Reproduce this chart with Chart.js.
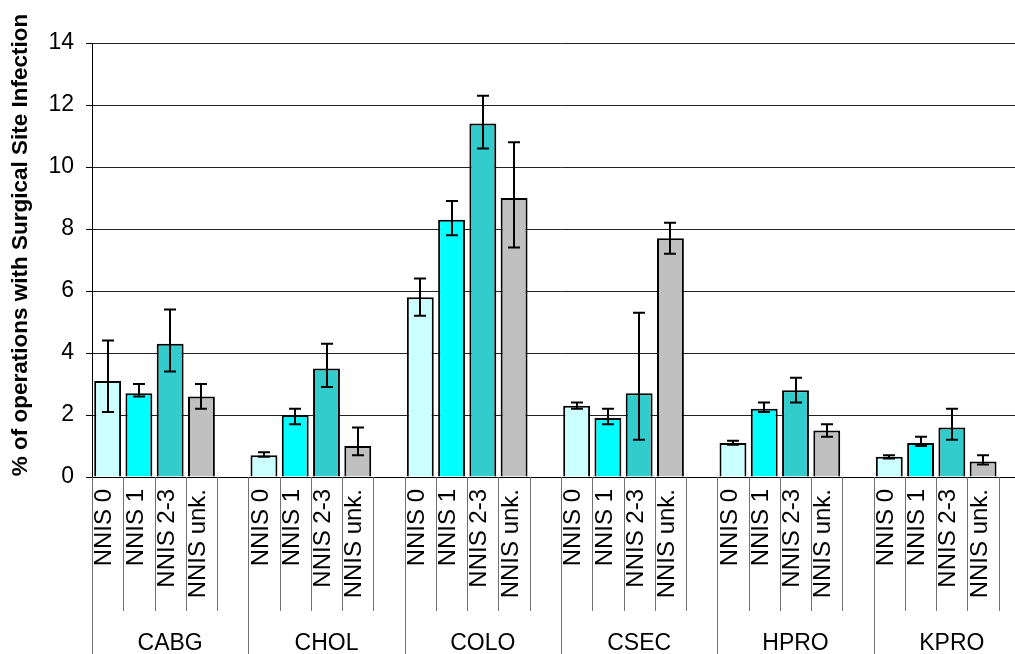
<!DOCTYPE html>
<html>
<head>
<meta charset="utf-8">
<script src="https://cdn.jsdelivr.net/npm/chart.js@4/dist/chart.umd.min.js"></script>
<style>
  html, body { margin: 0; padding: 0; overflow: hidden; background: #fff; width: 1015px; height: 654px; }
  #wrap { position: absolute; left: 0; top: 0; width: 1031px; height: 654px; }
</style>
</head>
<body>
<div id="wrap"><canvas id="ssi" width="1031" height="654"></canvas></div>
<script>
// Surgical site infection rates by procedure and NNIS risk index
const procedures = ['CABG', 'CHOL', 'COLO', 'CSEC', 'HPRO', 'KPRO'];
const riskLevels = ['NNIS 0', 'NNIS 1', 'NNIS 2-3', 'NNIS unk.'];
const riskColors = ['#CCFFFF', '#00FFFF', '#33CCCC', '#C0C0C0'];

// rate (%) per procedure, one array per risk level
const rateNnis0   = [3.1, 0.7, 5.8, 2.3, 1.1, 0.65];
const rateNnis1   = [2.7, 2.0, 8.3, 1.9, 2.2, 1.1];
const rateNnis23  = [4.3, 3.5, 11.4, 2.7, 2.8, 1.6];
const rateNnisUnk = [2.6, 1.0, 9.0, 7.7, 1.5, 0.5];

// 95% confidence interval bounds
const lowNnis0    = [2.1, 0.65, 5.2, 2.2, 1.04, 0.6];
const highNnis0   = [4.4, 0.8, 6.4, 2.4, 1.17, 0.7];
const lowNnis1    = [2.6, 1.7, 7.8, 1.7, 2.1, 1.0];
const highNnis1   = [3.0, 2.2, 8.9, 2.2, 2.4, 1.3];
const lowNnis23   = [3.4, 2.9, 10.6, 1.2, 2.4, 1.2];
const highNnis23  = [5.4, 4.3, 12.3, 5.3, 3.2, 2.2];
const lowNnisUnk  = [2.2, 0.7, 7.4, 7.2, 1.3, 0.4];
const highNnisUnk = [3.0, 1.6, 10.8, 8.2, 1.7, 0.7];

const yTicks = [0, 2, 4, 6, 8, 10, 12, 14];
const yTitle = '% of operations with Surgical Site Infection';

const FONT = '"Liberation Sans", Arial, sans-serif';

// Each procedure takes five slots: four risk levels plus an empty spacer
const rates = [rateNnis0, rateNnis1, rateNnis23, rateNnisUnk];
const lows = [lowNnis0, lowNnis1, lowNnis23, lowNnisUnk];
const highs = [highNnis0, highNnis1, highNnis23, highNnisUnk];
const slotLabels = [], slotValues = [], slotColors = [], slotLow = [], slotHigh = [];
procedures.forEach((p, pi) => {
  riskLevels.forEach((r, ri) => {
    slotLabels.push(r);
    slotValues.push(rates[ri][pi]);
    slotColors.push(riskColors[ri]);
    slotLow.push(lows[ri][pi]);
    slotHigh.push(highs[ri][pi]);
  });
  slotLabels.push('');
  slotValues.push(null);
  slotColors.push('rgba(0,0,0,0)');
  slotLow.push(null);
  slotHigh.push(null);
});
const SLOTS_PER_GROUP = riskLevels.length + 1;

const errorBars = {
  id: 'errorBars',
  afterDatasetsDraw(chart) {
    const ctx = chart.ctx;
    const meta = chart.getDatasetMeta(0);
    const y = chart.scales.y;
    ctx.save();
    ctx.strokeStyle = '#000';
    ctx.lineWidth = 2;
    meta.data.forEach((bar, i) => {
      if (slotLow[i] == null) return;
      const x = Math.round(bar.x);
      const yl = y.getPixelForValue(slotLow[i]);
      const yh = y.getPixelForValue(slotHigh[i]);
      ctx.beginPath();
      ctx.moveTo(x, yh); ctx.lineTo(x, yl);
      ctx.moveTo(x - 6, yh); ctx.lineTo(x + 6, yh);
      ctx.moveTo(x - 6, yl); ctx.lineTo(x + 6, yl);
      ctx.stroke();
    });
    ctx.restore();
  }
};

const axisLabels = {
  id: 'axisLabels',
  afterDraw(chart) {
    const ctx = chart.ctx;
    const area = chart.chartArea;
    const n = slotLabels.length;
    const slotW = (area.right - area.left) / n;
    const H = chart.height;
    ctx.save();
    // dividers between slot labels and between procedures
    ctx.strokeStyle = '#707070';
    ctx.lineWidth = 1;
    for (let k = 0; k <= n; k++) {
      const x = Math.round(area.left + k * slotW) + 0.5;
      const isGroup = k % SLOTS_PER_GROUP === 0;
      ctx.beginPath();
      ctx.moveTo(x, area.bottom);
      ctx.lineTo(x, isGroup ? H : 611);
      ctx.stroke();
    }
    // rotated risk level labels
    ctx.fillStyle = '#000';
    ctx.font = '24px ' + FONT;
    ctx.textAlign = 'right';
    ctx.textBaseline = 'middle';
    slotLabels.forEach((lab, i) => {
      if (!lab) return;
      const cx = area.left + (i + 0.5) * slotW - 3;
      ctx.save();
      ctx.translate(cx, 489);
      ctx.rotate(-Math.PI / 2);
      ctx.fillText(lab, 0, 0);
      ctx.restore();
    });
    // procedure names
    ctx.font = '23px ' + FONT;
    ctx.textAlign = 'center';
    procedures.forEach((p, pi) => {
      const cx = area.left + (pi + 0.5) * SLOTS_PER_GROUP * slotW;
      ctx.fillText(p, cx, 644);
    });
    // value axis title
    ctx.font = 'bold 22.5px ' + FONT;
    ctx.save();
    ctx.translate(21, 245);
    ctx.rotate(-Math.PI / 2);
    ctx.fillText(yTitle, 0, 0);
    ctx.restore();
    ctx.restore();
  }
};

new Chart(document.getElementById('ssi'), {
  type: 'bar',
  data: {
    labels: slotLabels,
    datasets: [{
      data: slotValues,
      backgroundColor: slotColors,
      borderColor: '#000',
      borderWidth: 2,
      borderSkipped: 'start',
      barPercentage: 0.86,
      categoryPercentage: 1
    }]
  },
  options: {
    responsive: false,
    animation: false,
    devicePixelRatio: 1,
    layout: { padding: { top: 43, right: 1, left: 0, bottom: 0 } },
    plugins: { legend: { display: false }, tooltip: { enabled: false } },
    scales: {
      x: {
        grid: { display: false },
        border: { display: true, color: '#000', width: 1 },
        ticks: { display: false },
        afterFit(s) { s.height = 177; }
      },
      y: {
        min: 0,
        max: 14,
        afterBuildTicks(s) { s.ticks = yTicks.map(v => ({ value: v })); },
        ticks: { color: '#000', font: { family: FONT, size: 23 }, padding: 12 },
        grid: { color: '#222', lineWidth: 1, tickLength: 6, drawTicks: true, tickColor: '#000' },
        border: { color: '#000', width: 1 },
        afterFit(s) { s.width = 92; }
      }
    }
  },
  plugins: [errorBars, axisLabels]
});
</script>
</body>
</html>
